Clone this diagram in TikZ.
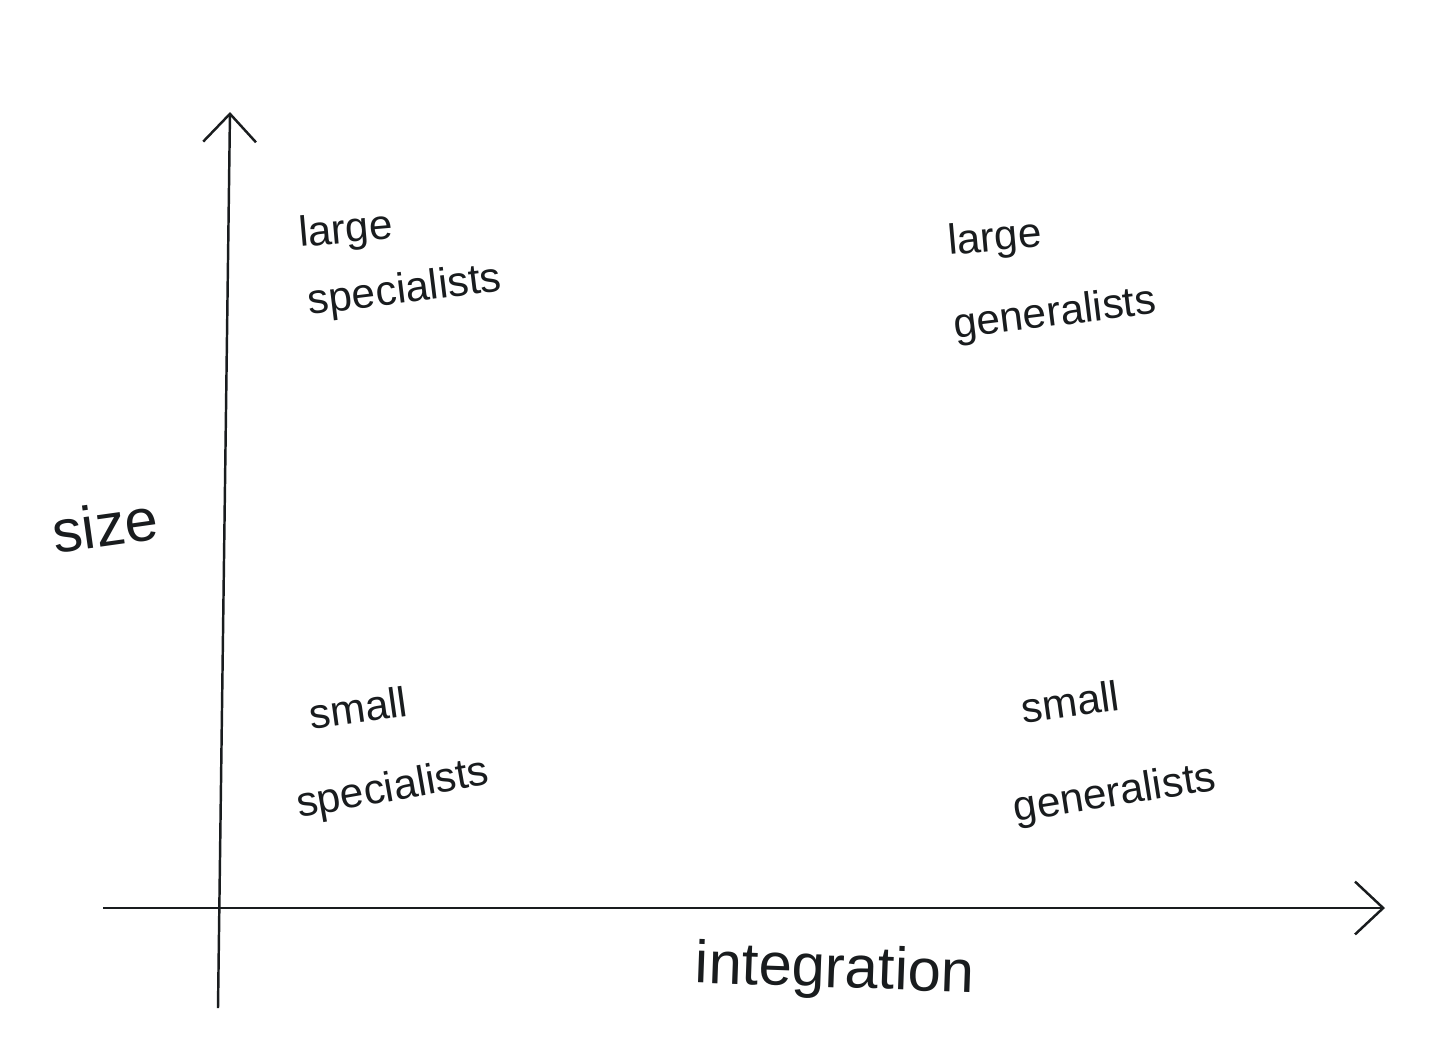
\documentclass[tikz,border=0pt]{standalone}
\usepackage{fontspec}
\setmainfont{Liberation Sans}
\usetikzlibrary{arrows.meta}
\definecolor{INK}{RGB}{25,28,30}

\begin{document}
\begin{tikzpicture}[
  x=0.01cm, y=-0.01cm,
  axis/.style={draw=INK, line width=0.7pt, -{Straight Barb[length=8pt, width=15pt, line width=0.7pt]}},
  quad/.style={text=INK, inner sep=0pt, rotate=#1, font=\fontsize{12}{15}\selectfont},
  quad/.default=7,
  axlabel/.style={text=INK, font=\fontsize{17}{20}\selectfont}
]
\useasboundingbox (0,0) rectangle (1456,1056);

% Axes
\coordinate (ybot) at (218,1008);
\coordinate (ytop) at (230,112);
\coordinate (xleft) at (103,908);
\coordinate (xright) at (1385,908);
\draw[axis] (ybot) -- (ytop);
\draw[axis] (xleft) -- (xright);

% Axis labels
\node[axlabel, rotate=8] (size) at (105,525) {size};
\node[axlabel, rotate=-2] (integ) at (835,972) {integration};

% Quadrants
\node[quad=5]  (lsA) at (346,232) {large};
\node[quad]    (lsB) at (405,292) {specialists};
\node[quad=5]  (lgA) at (995,240) {large};
\node[quad]    (lgB) at (1055,315) {generalists};
\node[quad=8]  (ssA) at (358,708) {small};
\node[quad=10] (ssB) at (393,790) {specialists};
\node[quad=8]  (sgA) at (1070,702) {small};
\node[quad=9]  (sgB) at (1115,795) {generalists};
\end{tikzpicture}
\end{document}
